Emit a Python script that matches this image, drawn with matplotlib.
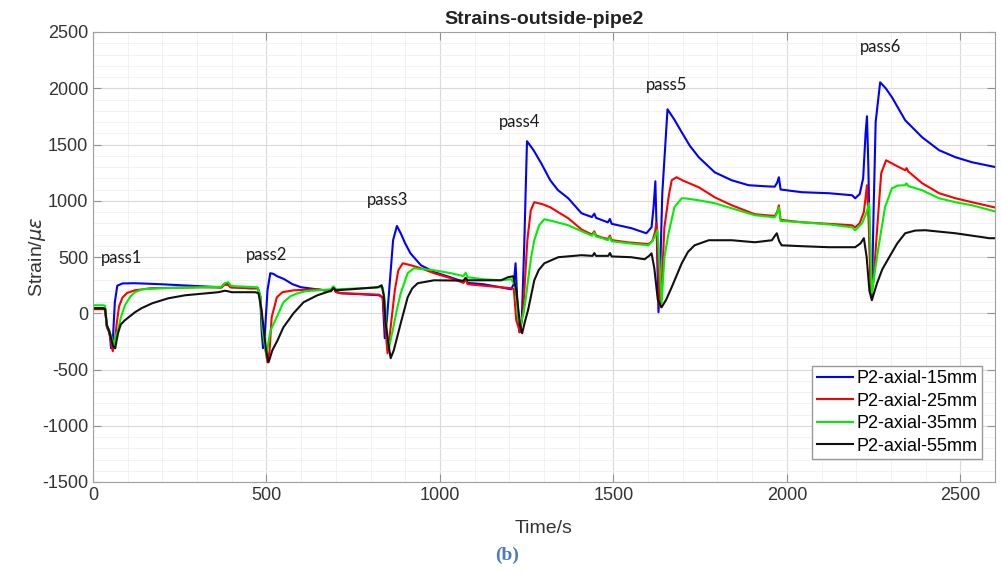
import numpy as np
import matplotlib
matplotlib.use("Agg")
import matplotlib.pyplot as plt
from matplotlib.ticker import MultipleLocator

plt.rcParams['font.family'] = ['Liberation Sans', 'DejaVu Sans']
plt.rcParams['mathtext.fontset'] = 'dejavusans'
plt.rcParams['axes.unicode_minus'] = False

# (time s, strain)
s15 = [(0,44),(30,44),(35,38),(40,-120),(45,-150),(49,-200),(52,-311),(57,-250),(63,100),(70,245),
       (85,265),(120,267),(195,258),(310,240),(370,231),(380,262),(390,258),(397,232),(410,231),
       (455,222),(475,222),(482,150),(486,-150),(490,-311),(495,-196),(503,204),(511,356),(520,350),
       (530,330),(550,305),(575,258),(600,231),(645,213),(686,196),(693,232),(700,190),(714,178),
       (770,169),(825,160),(835,140),(841,-222),(847,-62),(856,293),(865,649),(876,776),(887,711),
       (900,620),(915,533),(945,427),(985,364),(1030,320),(1068,280),(1074,310),(1080,270),(1125,258),
       (1175,231),(1205,213),(1213,260),(1218,444),(1223,116),(1229,-169),(1236,-62),(1243,600),
       (1251,1529),(1270,1449),(1292,1333),(1318,1182),(1340,1095),(1370,1022),(1408,889),(1438,855),
       (1445,885),(1450,848),(1484,808),(1490,838),(1495,795),(1552,756),(1595,711),(1610,764),
       (1616,950),(1621,1173),(1625,700),(1630,9),(1635,400),(1641,1067),(1656,1813),(1676,1720),
       (1697,1609),(1720,1490),(1746,1387),(1792,1253),(1841,1182),(1890,1138),(1936,1129),(1965,1125),
       (1972,1160),(1977,1209),(1982,1100),(2043,1076),(2121,1067),(2188,1049),(2197,1022),
       (2210,1060),(2220,1200),(2227,1600),(2231,1751),(2235,1300),(2240,400),(2245,142),
       (2250,900),(2256,1700),(2269,2053),(2285,2000),(2303,1920),(2341,1716),(2390,1564),(2439,1449),
       (2486,1387),(2534,1342),(2600,1300)]

s25 = [(0,36),(30,36),(35,30),(40,-124),(46,-165),(52,-250),(57,-338),(63,-250),(68,-100),(75,60),
       (85,140),(98,180),(121,204),(165,222),(309,231),(370,228),(380,255),(390,250),(397,230),
       (455,222),(475,222),(482,150),(489,-151),(496,-300),(503,-436),(509,-330),(515,-36),
       (530,142),(546,187),(578,204),(647,213),(686,196),(693,230),(700,188),(714,178),(770,172),
       (825,165),(835,140),(842,-100),(849,-356),(857,-151),(870,204),(880,382),(893,444),
       (916,427),(945,400),(983,356),(1032,311),(1068,270),(1074,300),(1080,258),(1125,245),
       (1176,231),(1205,222),(1213,215),(1220,-62),(1231,-169),(1240,27),(1252,649),(1262,916),
       (1272,987),(1295,970),(1318,942),(1370,844),(1408,745),(1438,700),(1445,728),(1450,692),(1465,675),
       (1484,660),(1490,690),(1495,650),(1543,630),(1601,615),(1612,640),(1620,720),(1624,800),
       (1628,500),(1634,53),(1640,300),(1647,764),(1660,1050),(1668,1182),(1682,1209),(1700,1180),
       (1746,1120),(1792,1031),(1841,960),(1908,880),(1965,865),(1972,900),(1977,960),(1982,830),
       (2043,809),(2121,795),(2188,782),(2197,764),(2210,800),(2222,900),(2231,1138),(2236,800),
       (2243,142),(2250,300),(2260,738),(2272,1244),(2286,1360),(2310,1320),(2341,1271),
       (2345,1290),(2350,1260),(2390,1156),(2439,1067),(2486,1022),(2534,987),(2600,940)]

s35 = [(0,71),(30,71),(35,65),(40,-107),(48,-160),(54,-220),(60,-284),(66,-200),(72,-151),(80,-40),
       (92,71),(108,150),(121,187),(142,213),(194,222),(309,231),(370,235),(380,268),(390,276),
       (397,245),(410,240),(474,231),(482,160),(489,-151),(496,-300),(500,-373),(506,-250),
       (512,-151),(532,-18),(549,98),(569,151),(590,178),(613,196),(647,204),(686,213),(693,240),
       (700,213),(772,222),(825,231),(835,230),(841,116),(848,-200),(853,-311),(864,-151),
       (875,20),(887,178),(907,356),(925,400),(983,382),(1032,356),(1068,330),(1074,360),(1080,320),
       (1127,302),(1176,293),(1205,302),(1213,270),(1217,249),(1225,-30),(1231,-107),(1240,-18),
       (1247,120),(1254,293),(1263,500),(1272,649),(1286,782),(1301,836),(1330,815),(1370,782),
       (1408,730),(1438,690),(1445,718),
       (1450,682),(1465,670),(1484,650),(1490,678),(1495,640),(1543,622),(1601,604),(1612,640),
       (1622,700),(1627,738),(1632,500),(1639,89),(1647,498),(1659,711),(1676,942),(1697,1022),
       (1705,1022),(1746,1004),(1792,978),(1841,933),(1908,871),(1965,853),(1972,890),(1977,942),
       (1982,820),(2043,809),(2121,790),(2188,764),(2197,738),(2217,800),(2230,900),(2237,978),
       (2241,600),(2245,178),(2255,400),(2266,622),(2283,942),(2303,1111),(2320,1135),(2341,1138),
       (2345,1155),(2350,1130),(2390,1093),(2439,1022),(2486,987),(2534,960),(2600,905)]

s55 = [(0,44),(30,44),(35,38),(40,-107),(46,-151),(52,-220),(58,-293),(64,-311),(72,-178),(80,-100),
       (92,-62),(121,9),(140,45),(171,89),(217,133),(266,160),(361,187),(380,200),(390,195),(400,187),
       (468,187),(477,178),(486,27),(494,-196),(500,-350),(506,-436),(517,-329),(532,-240),
       (549,-124),(578,0),(607,98),(647,160),(686,200),(693,225),(700,204),(743,213),(821,231),
       (832,249),(838,160),(844,-100),(850,-240),(858,-400),(867,-329),(887,-89),(907,142),
       (920,220),(936,267),(983,293),(1068,290),(1074,315),(1080,293),(1176,293),(1196,320),(1211,329),
       (1220,204),(1231,-107),(1237,-178),(1246,-62),(1254,27),(1272,293),(1285,385),(1301,444),(1341,498),
       (1408,516),(1440,510),(1445,535),(1450,510),(1485,510),(1490,535),(1495,505),(1552,498),
       (1590,480),(1603,510),(1610,533),(1618,400),(1628,120),(1639,53),(1652,120),(1668,231),(1697,444),
       (1715,545),(1734,604),(1775,649),(1841,649),(1908,631),(1957,649),(1966,690),(1971,711),(1978,640),
       (1985,604),(2043,596),(2121,587),(2197,587),(2212,620),(2222,667),(2230,500),(2238,200),
       (2245,116),(2260,267),(2275,390),(2295,498),(2318,620),(2341,711),(2370,735),(2399,738),
       (2486,711),(2584,667),(2600,667)]

names = ['P2-axial-15mm', 'P2-axial-25mm', 'P2-axial-35mm', 'P2-axial-55mm']
colors = ['#0000ff', '#ff0000', '#00ee00', '#111111']

pass_labels = ['pass1', 'pass2', 'pass3', 'pass4', 'pass5', 'pass6']
pass_x = [81, 501, 850, 1231, 1653, 2269]
pass_y = [489, 515, 1004, 1698, 2027, 2364]

fig = plt.figure(figsize=(10.01, 5.73), dpi=100)
ax = fig.add_axes([93/1001, 1-482/573, 902/1001, 450/573])

for s, name, c in zip([s15, s25, s35, s55], names, colors):
    d = np.array(s)
    ax.plot(d[:, 0], d[:, 1], color=c, lw=1.5, label=name)

for lab, x, y in zip(pass_labels, pass_x, pass_y):
    ax.text(x, y, lab, ha='center', va='center', fontsize=12, family=['Lato', 'DejaVu Sans'], color='#1a1a1a')

ax.set_xlim(0, 2600)
ax.set_ylim(-1500, 2500)
ax.xaxis.set_major_locator(MultipleLocator(500))
ax.yaxis.set_major_locator(MultipleLocator(500))
ax.xaxis.set_minor_locator(MultipleLocator(100))
ax.yaxis.set_minor_locator(MultipleLocator(100))
ax.grid(which='major', color='#dadada', lw=0.8)
ax.grid(which='minor', color='#f0f0f0', lw=0.6)
ax.set_axisbelow(True)
ax.tick_params(which='major', direction='in', top=True, right=True, length=6,
               color='#909090', labelcolor='#333333', labelsize=13)
ax.tick_params(which='minor', length=0)
for sp in ax.spines.values():
    sp.set_color('#a0a0a0')

ax.set_title('Strains-outside-pipe2', fontsize=14, fontweight='bold', color='#222222', pad=6)
ax.set_xlabel('Time/s', fontsize=14, color='#333333')
ax.xaxis.set_label_coords(0.5, -0.085)
ax.set_ylabel(r'Strain/$\mu\epsilon$', fontsize=14, color='#333333')
ax.yaxis.set_label_coords(-0.062, 0.5)
ax.yaxis.label.set_va('center')

leg = ax.legend(loc='lower right', bbox_to_anchor=(0.9856, 0.051), borderaxespad=0,
                fontsize=13, fancybox=False, edgecolor='#999999', framealpha=1,
                handlelength=2.0, handletextpad=0.2, labelspacing=0.3, borderpad=0.25)
leg.get_frame().set_linewidth(1.0)

fig.text(507/1001, 1-555/573, '(b)', ha='center', va='center', fontsize=14, fontweight='bold',
         family=['Liberation Serif', 'DejaVu Serif'], color='#4a7bbf')

fig.savefig('out.png', dpi=100)
